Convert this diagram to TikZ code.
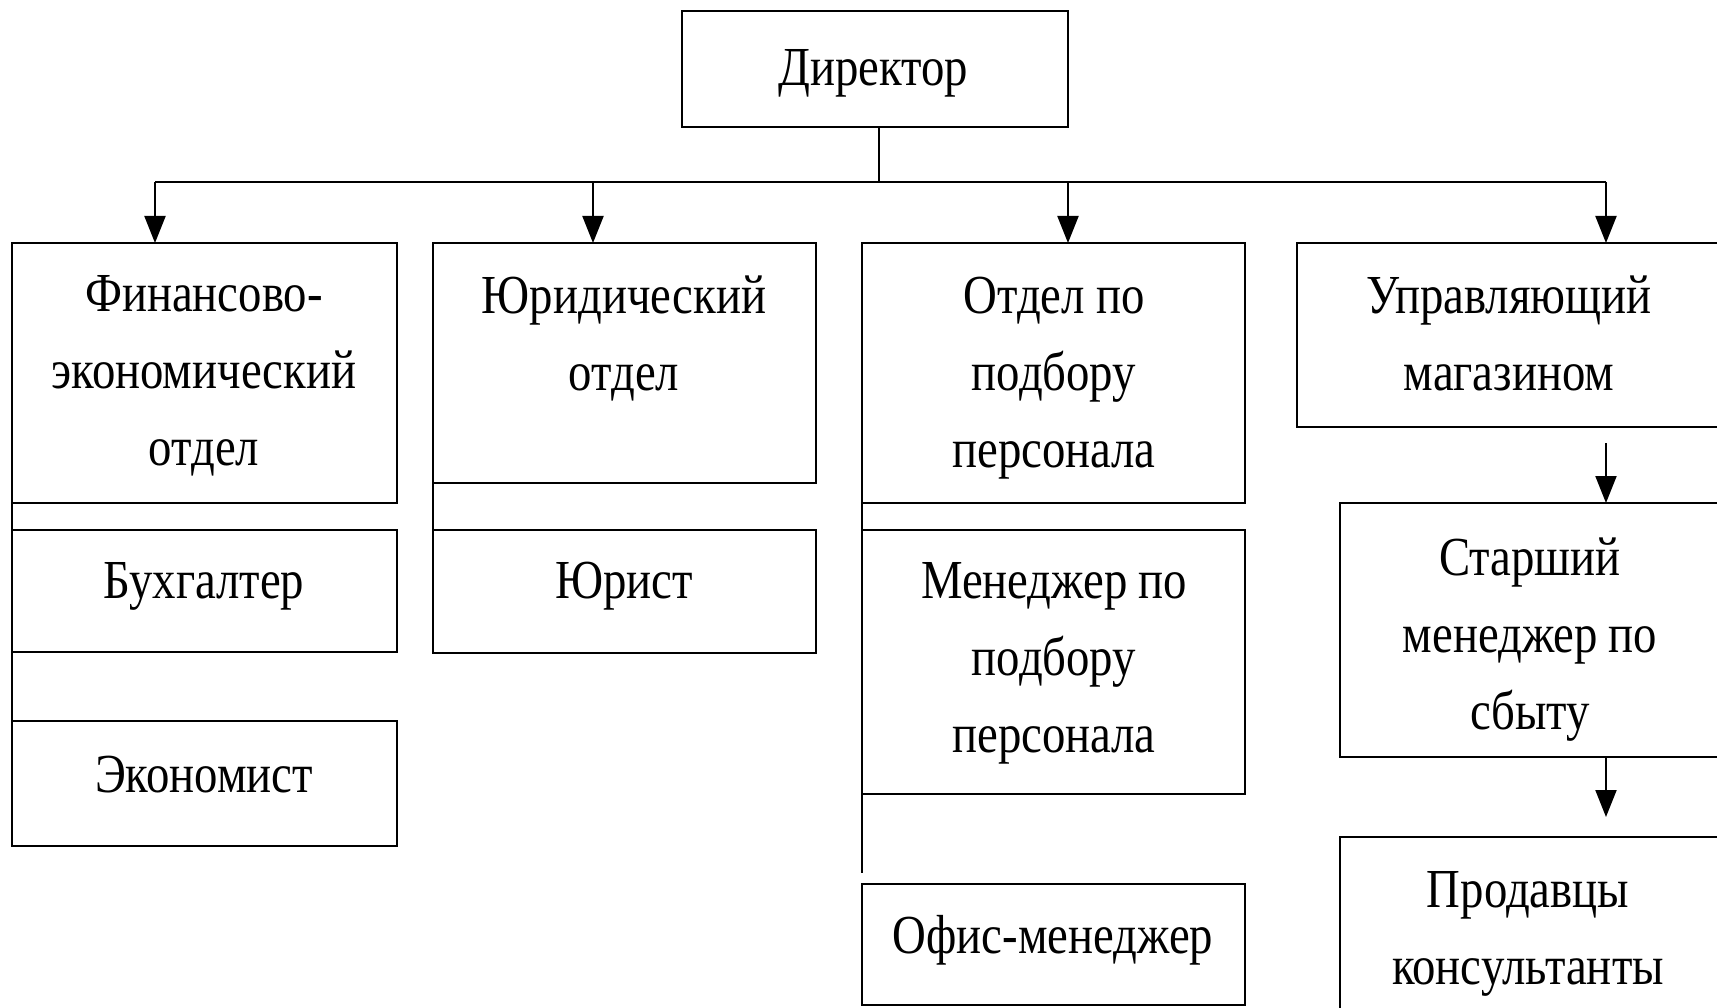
\documentclass[tikz,border=0pt]{standalone}
\usepackage{fontspec}
\setmainfont{Liberation Serif}[FakeStretch=0.85]
\usetikzlibrary{arrows.meta}
\newcommand\wsp{\hspace{0.2em}}
\begin{document}
\begin{tikzpicture}[x=1pt,y=-1pt,
  box/.style={draw=black, line width=2.4pt, inner sep=0pt, outer sep=0pt},
  txt/.style={font=\fontsize{55}{77}\selectfont, align=center, text width=420pt, anchor=base, inner sep=0pt},
  con/.style={line width=2pt},
  arr/.style={line width=2pt, -{Triangle[length=27pt,width=21pt]}}]
\clip (0,0) rectangle (1717,1008);
\fill[white] (0,0) rectangle (1717,1008);
% boxes
\node[box, minimum width=386pt, minimum height=116pt] (dir) at (875,69) {};
\node[box, minimum width=385pt, minimum height=260pt] (fin) at (204.5,373) {};
\node[box, minimum width=383pt, minimum height=240pt] (jur) at (624.5,363) {};
\node[box, minimum width=383pt, minimum height=260pt] (hr) at (1053.5,373) {};
\node[box, minimum width=424pt, minimum height=184pt] (shop) at (1509,335) {};
\node[box, minimum width=385pt, minimum height=122pt] (buh) at (204.5,591) {};
\node[box, minimum width=383pt, minimum height=123pt] (lawyer) at (624.5,591.5) {};
\node[box, minimum width=385pt, minimum height=125pt] (econ) at (204.5,783.5) {};
\node[box, minimum width=383pt, minimum height=264pt] (mgr) at (1053.5,662) {};
\node[box, minimum width=383pt, minimum height=121pt] (office) at (1053.5,944.5) {};
\node[box, minimum width=380pt, minimum height=254pt] (senior) at (1530,630) {};
\node[box, minimum width=380pt, minimum height=243pt] (sales) at (1530,958.5) {};
% texts
\node[txt] (tdir) at (873,86) {Директор};
\node[txt] (tfin) at (204,312) {Финансово-\\экономический\\отдел};
\node[txt] (tjur) at (624,314) {Юридический\\отдел};
\node[txt] (thr) at (1054,314) {Отдел\wsp{}по\\подбору\\персонала};
\node[txt] (tshop) at (1509,314) {Управляющий\\магазином};
\node[txt] (tbuh) at (204,598) {Бухгалтер};
\node[txt] (tlawyer) at (624,598) {Юрист};
\node[txt] (tecon) at (204,792) {Экономист};
\node[txt] (tmgr) at (1054,598) {Менеджер\wsp{}по\\подбору\\персонала};
\node[txt] (toffice) at (1053,953) {Офис-менеджер};
\node[txt] (tsenior) at (1530,575) {Старший\\менеджер\wsp{}по\\сбыту};
\node[txt] (tsales) at (1528,907) {Продавцы\\консультанты};
% connectors
\coordinate (b1) at (155,182);
\coordinate (b2) at (593,182);
\coordinate (b3) at (1068,182);
\coordinate (b4) at (1606,182);
\draw[con] ([xshift=4pt]dir.south) -- ([xshift=4pt]dir.south |- b1);
\draw[con] (b1) -- (b4);
\draw[arr] (b1) -- (b1 |- fin.north);
\draw[arr] (b2) -- (b2 |- jur.north);
\draw[arr] (b3) -- (b3 |- hr.north);
\draw[arr] (b4) -- (b4 |- shop.north);
\draw[con] (fin.south west) -- (econ.north west);
\draw[con] (jur.south west) -- (lawyer.north west);
\coordinate (hrend) at (862,873);
\draw[con] (hr.south west) -- (hrend);
\coordinate (s1) at (1606,443);
\draw[arr] (s1) -- (s1 |- senior.north);
\coordinate (s2) at (1606,817);
\draw[arr] (s1 |- senior.south) -- (s2);
\end{tikzpicture}
\end{document}
